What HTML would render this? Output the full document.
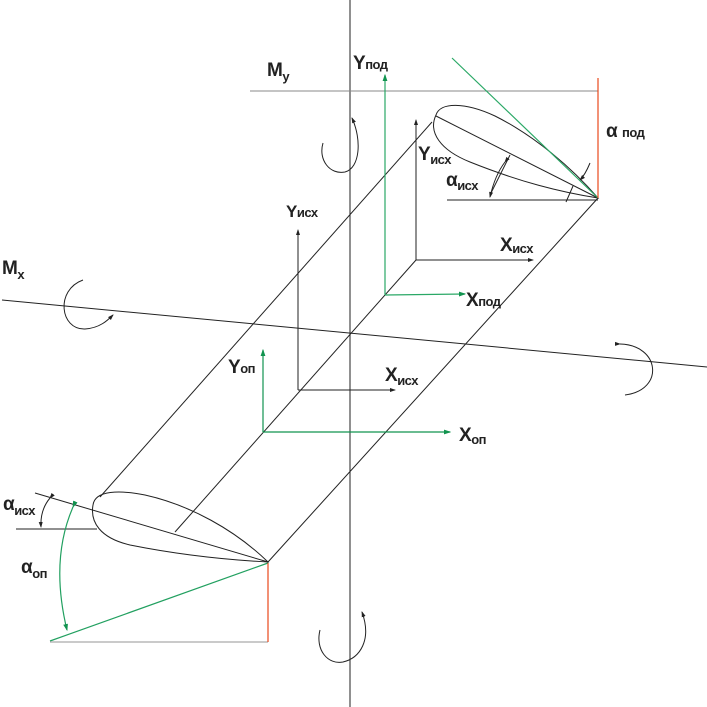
<!DOCTYPE html>
<html><head><meta charset="utf-8"><style>
html,body{margin:0;padding:0;background:#fff}
svg{display:block}
text{font-family:"Liberation Sans","DejaVu Sans",sans-serif;fill:#222;font-weight:bold;letter-spacing:-0.5px}
.b{font-size:19px}
.s{font-size:13px}
</style></head><body>
<svg width="707" height="707" viewBox="0 0 707 707" xmlns="http://www.w3.org/2000/svg">
<defs>
<marker id="a" markerWidth="6" markerHeight="6" refX="5" refY="3" orient="auto"><path d="M0,1 L6,3 L0,5z" fill="#222"/></marker>
<marker id="g" markerWidth="6" markerHeight="6" refX="5" refY="3" orient="auto"><path d="M0,1 L6,3 L0,5z" fill="#11934f"/></marker>
</defs>
<g fill="none" stroke="#222" stroke-width="1">
<line x1="350" y1="0" x2="350" y2="707"/>
<line x1="250" y1="91" x2="598" y2="91" stroke="#888"/>
<line x1="2" y1="300" x2="707" y2="367"/>
<line x1="432" y1="122" x2="100" y2="497"/>
<line x1="598" y1="198" x2="268" y2="562"/>
<line x1="416" y1="260" x2="175" y2="532"/>
<path d="M436,115 C440,102 465,102 495,116 C535,136 572,168 598,198 C560,192 520,182 470,162 C440,150 428,132 436,115z"/>
<line x1="436" y1="116" x2="598" y2="198"/>
<line x1="447" y1="200" x2="598" y2="200"/>
<line x1="510" y1="155" x2="490" y2="195"/>
<path d="M505,162 Q495,175 490,197" marker-start="url(#a)" marker-end="url(#a)"/>
<path d="M573,186 Q570,193 566,202"/>
<path d="M590,163 Q585,175 580,180" marker-end="url(#a)"/>
<path d="M93,505 C95,490 120,490 145,495 C190,505 235,530 268,562 C230,560 180,555 130,545 C100,538 90,522 93,505z"/>
<line x1="35" y1="493" x2="268" y2="562"/>
<line x1="16" y1="529" x2="97" y2="529"/>
<path d="M50,498 Q40,510 41,527" marker-start="url(#a)" marker-end="url(#a)"/>
<line x1="416" y1="260" x2="416" y2="120" marker-end="url(#a)"/>
<line x1="416" y1="260" x2="533" y2="260" marker-end="url(#a)"/>
<line x1="298" y1="390" x2="298" y2="230" marker-end="url(#a)"/>
<line x1="298" y1="390" x2="395" y2="390" marker-end="url(#a)"/>
<path d="M323,143 C318,160 330,175 345,172 C360,168 362,140 352,118" marker-end="url(#a)"/>
<path d="M83,280 C55,290 60,330 85,329 C100,328 108,320 113,315" marker-end="url(#a)"/>
<path d="M620,344 C660,345 665,390 625,395" marker-start="url(#a)"/>
<path d="M320,630 C315,650 328,665 343,662 C360,658 372,640 362,612" marker-end="url(#a)"/>
</g>
<g fill="none" stroke-width="1.2">
<line x1="385" y1="295" x2="385" y2="75" stroke="#2aa866" marker-end="url(#g)"/>
<line x1="385" y1="295" x2="465" y2="294" stroke="#2aa866" marker-end="url(#g)"/>
<line x1="263" y1="432" x2="263" y2="350" stroke="#11934f" marker-end="url(#g)"/>
<line x1="263" y1="432" x2="450" y2="432" stroke="#11934f" marker-end="url(#g)"/>
<line x1="452" y1="58" x2="598" y2="198" stroke="#2aa866"/>
<line x1="598" y1="78" x2="598" y2="198" stroke="#e8481c"/>
<line x1="50" y1="641" x2="268" y2="563" stroke="#22a060"/>
<line x1="50" y1="642" x2="268" y2="642" stroke="#aaa"/>
<line x1="268" y1="563" x2="268" y2="642" stroke="#e8481c"/>
<path d="M73,507 Q50,560 67,630" stroke="#22a060" marker-start="url(#g)" marker-end="url(#g)"/>
</g>
<text x="267" y="76" class="b">M<tspan class="s" dy="5">y</tspan></text>
<text x="353" y="69" class="b">Y<tspan class="s">под</tspan></text>
<text x="606" y="137" class="b">α <tspan class="s">под</tspan></text>
<text x="418" y="160" class="b">Y<tspan class="s" dy="4">исх</tspan></text>
<text x="446" y="186" class="b">α<tspan class="s" dy="4">исх</tspan></text>
<text x="286" y="217" class="b" style="font-size:17px">Y<tspan class="s">исх</tspan></text>
<text x="500" y="251" class="b">X<tspan class="s" dy="2">исх</tspan></text>
<text x="2" y="274" class="b">M<tspan class="s" dy="5">x</tspan></text>
<text x="466" y="306" class="b">X<tspan class="s">под</tspan></text>
<text x="228" y="373" class="b">Y<tspan class="s">оп</tspan></text>
<text x="385" y="381" class="b">X<tspan class="s" dy="4">исх</tspan></text>
<text x="459" y="441" class="b">X<tspan class="s" dy="3">оп</tspan></text>
<text x="3" y="510" class="b">α<tspan class="s" dy="5">исх</tspan></text>
<text x="21" y="573" class="b">α<tspan class="s" dy="5">оп</tspan></text>
</svg>
</body></html>
